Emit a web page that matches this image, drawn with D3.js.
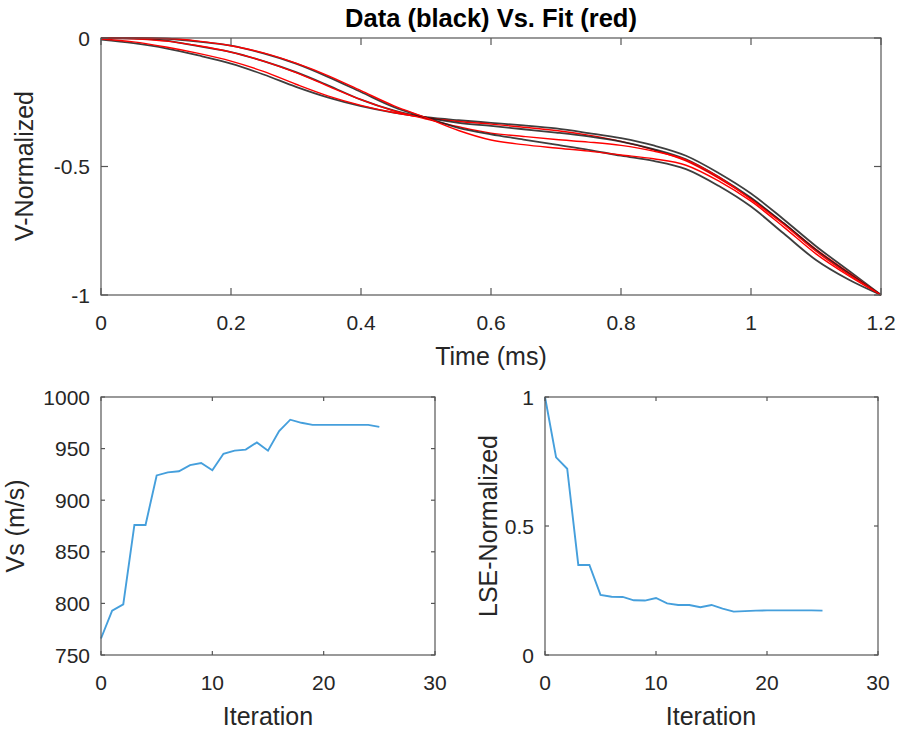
<!DOCTYPE html>
<html>
<head>
<meta charset="utf-8">
<script src="https://cdn.jsdelivr.net/npm/d3@7"></script>
<style>
  html, body { margin: 0; padding: 0; background: #fff; }
  svg text { font-family: "Liberation Sans", Arial, Helvetica, sans-serif; fill: #262626; }
</style>
</head>
<body>
<svg id="fig" width="902" height="733"></svg>
<script>
// Time samples (ms) for the normalized waveforms
const time = [0, 0.05, 0.1, 0.15, 0.2, 0.25, 0.3, 0.35, 0.4, 0.45, 0.5, 0.55, 0.6,
              0.65, 0.7, 0.75, 0.8, 0.85, 0.9, 0.95, 1.0, 1.05, 1.1, 1.15, 1.2];

// Measured waveforms (black)
const dataA = [-0.006, -0.02, -0.04, -0.068, -0.1, -0.142, -0.19, -0.232, -0.265, -0.29, -0.308, -0.32, -0.33,
               -0.34, -0.352, -0.37, -0.39, -0.418, -0.458, -0.525, -0.605, -0.705, -0.81, -0.905, -1];
const dataB = [0, -0.002, -0.01, -0.032, -0.055, -0.09, -0.133, -0.185, -0.24, -0.282, -0.31, -0.33, -0.342,
               -0.355, -0.368, -0.383, -0.403, -0.432, -0.472, -0.54, -0.622, -0.72, -0.825, -0.915, -1];
const dataC = [0, 0, -0.003, -0.014, -0.03, -0.06, -0.1, -0.152, -0.21, -0.268, -0.31, -0.35, -0.375,
               -0.395, -0.415, -0.435, -0.458, -0.478, -0.51, -0.575, -0.656, -0.76, -0.864, -0.94, -1];

// Fitted waveforms (red)
const fitA = [-0.004, -0.015, -0.035, -0.06, -0.09, -0.13, -0.18, -0.226, -0.262, -0.29, -0.31, -0.325, -0.335,
              -0.347, -0.36, -0.378, -0.402, -0.435, -0.478, -0.545, -0.625, -0.72, -0.822, -0.912, -1];
const fitB = [0, -0.003, -0.012, -0.03, -0.055, -0.09, -0.135, -0.188, -0.24, -0.283, -0.315, -0.345, -0.37,
              -0.383, -0.395, -0.405, -0.418, -0.44, -0.474, -0.54, -0.628, -0.725, -0.83, -0.92, -1];
const fitC = [0, 0, -0.002, -0.012, -0.03, -0.058, -0.098, -0.147, -0.205, -0.263, -0.31, -0.36, -0.397,
              -0.415, -0.428, -0.44, -0.455, -0.47, -0.495, -0.556, -0.635, -0.735, -0.84, -0.925, -1];

// Inversion history
const iteration = [0, 1, 2, 3, 4, 5, 6, 7, 8, 9, 10, 11, 12, 13, 14, 15, 16, 17, 18, 19, 20, 21, 22, 23, 24, 25];
const vs = [766, 793, 799, 876, 876, 924, 927, 928, 934, 936, 929, 945, 948, 949, 956, 948, 967, 978, 975,
            973, 973, 973, 973, 973, 973, 971];
const lse = [1.0, 0.766, 0.722, 0.349, 0.349, 0.233, 0.226, 0.225, 0.212, 0.211, 0.221, 0.2, 0.194, 0.194,
             0.185, 0.194, 0.18, 0.168, 0.17, 0.172, 0.173, 0.173, 0.173, 0.173, 0.173, 0.172];

// Tick values
const timeTicks = [0, 0.2, 0.4, 0.6, 0.8, 1, 1.2];
const vNormTicks = [0, -0.5, -1];
const iterTicks = [0, 10, 20, 30];
const vsTicks = [750, 800, 850, 900, 950, 1000];
const lseTicks = [0, 0.5, 1];

const svg = d3.select("#fig");
const AXIS = "#555555";

function drawAxes(g, x, y, xTicks, yTicks, tickLen, xFmt, yFmt) {
  const [x0, x1] = x.range();
  const [y0, y1] = y.range(); // y0 bottom, y1 top
  const ax = g.append("g");
  // box
  ax.append("rect")
    .attr("x", x0).attr("y", y1).attr("width", x1 - x0).attr("height", y0 - y1)
    .attr("fill", "none").attr("stroke", AXIS).attr("stroke-width", 1.2);
  // x ticks, bottom and top, pointing inward
  xTicks.forEach(v => {
    const px = x(v);
    ax.append("line").attr("x1", px).attr("x2", px).attr("y1", y0).attr("y2", y0 - tickLen)
      .attr("stroke", AXIS).attr("stroke-width", 1.2);
    ax.append("line").attr("x1", px).attr("x2", px).attr("y1", y1).attr("y2", y1 + tickLen)
      .attr("stroke", AXIS).attr("stroke-width", 1.2);
    ax.append("text").attr("x", px).attr("y", y0 + 35).attr("text-anchor", "middle")
      .attr("font-size", 21).text(xFmt(v));
  });
  // y ticks, left and right, pointing inward
  yTicks.forEach(v => {
    const py = y(v);
    ax.append("line").attr("x1", x0).attr("x2", x0 + tickLen).attr("y1", py).attr("y2", py)
      .attr("stroke", AXIS).attr("stroke-width", 1.2);
    ax.append("line").attr("x1", x1).attr("x2", x1 - tickLen).attr("y1", py).attr("y2", py)
      .attr("stroke", AXIS).attr("stroke-width", 1.2);
    ax.append("text").attr("x", x0 - 11).attr("y", py + 7.5).attr("text-anchor", "end")
      .attr("font-size", 21).text(yFmt(v));
  });
}

const fmt = v => (v === 0 ? "0" : String(v));

// ---- Top panel: waveforms ----
const xT = d3.scaleLinear().domain([0, 1.2]).range([101, 881]);
const yT = d3.scaleLinear().domain([-1, 0]).range([295, 38]);
const wavePanel = svg.append("g");
const lineT = d3.line().x((d, i) => xT(time[i])).y(d => yT(d)).curve(d3.curveMonotoneX);
svg.append("clipPath").attr("id", "clipTop").append("rect")
  .attr("x", 101).attr("y", 36).attr("width", 780).attr("height", 260);
const curves = wavePanel.append("g").attr("clip-path", "url(#clipTop)");
[[dataA, fitA], [dataB, fitB], [dataC, fitC]].forEach(([d, f]) => {
  curves.append("path").attr("d", lineT(d)).attr("fill", "none")
    .attr("stroke", "#1c1c1c").attr("stroke-width", 1.8).attr("stroke-opacity", 0.85);
  curves.append("path").attr("d", lineT(f)).attr("fill", "none")
    .attr("stroke", "#ff0000").attr("stroke-width", 1.4);
});
drawAxes(wavePanel, xT, yT, timeTicks, vNormTicks, 7, fmt, fmt);
wavePanel.append("text").attr("x", 491).attr("y", 27).attr("text-anchor", "middle")
  .attr("font-size", 25.5).attr("font-weight", "bold").style("fill", "#000")
  .text("Data (black) Vs. Fit (red)");
wavePanel.append("text").attr("x", 491).attr("y", 365).attr("text-anchor", "middle")
  .attr("font-size", 25).text("Time (ms)");
wavePanel.append("text").attr("transform", "translate(33,166) rotate(-90)").attr("text-anchor", "middle")
  .attr("font-size", 25).text("V-Normalized");

// ---- Bottom left: Vs history ----
const xL = d3.scaleLinear().domain([0, 30]).range([101, 435]);
const yL = d3.scaleLinear().domain([750, 1000]).range([655, 397]);
const vsPanel = svg.append("g");
vsPanel.append("path")
  .attr("d", d3.line().x((d, i) => xL(iteration[i])).y(d => yL(d))(vs))
  .attr("fill", "none").attr("stroke", "#459fdc").attr("stroke-width", 1.9);
drawAxes(vsPanel, xL, yL, iterTicks, vsTicks, 4, fmt, fmt);
vsPanel.append("text").attr("x", 268).attr("y", 725).attr("text-anchor", "middle")
  .attr("font-size", 25).text("Iteration");
vsPanel.append("text").attr("transform", "translate(24,526) rotate(-90)").attr("text-anchor", "middle")
  .attr("font-size", 25).text("Vs (m/s)");

// ---- Bottom right: normalized misfit history ----
const xR = d3.scaleLinear().domain([0, 30]).range([545, 878]);
const yR = d3.scaleLinear().domain([0, 1]).range([655, 397]);
const lsePanel = svg.append("g");
lsePanel.append("path")
  .attr("d", d3.line().x((d, i) => xR(iteration[i])).y(d => yR(d))(lse))
  .attr("fill", "none").attr("stroke", "#459fdc").attr("stroke-width", 1.9);
drawAxes(lsePanel, xR, yR, iterTicks, lseTicks, 4, fmt, fmt);
lsePanel.append("text").attr("x", 711).attr("y", 725).attr("text-anchor", "middle")
  .attr("font-size", 25).text("Iteration");
lsePanel.append("text").attr("transform", "translate(497,526) rotate(-90)").attr("text-anchor", "middle")
  .attr("font-size", 25).text("LSE-Normalized");
</script>
</body>
</html>
